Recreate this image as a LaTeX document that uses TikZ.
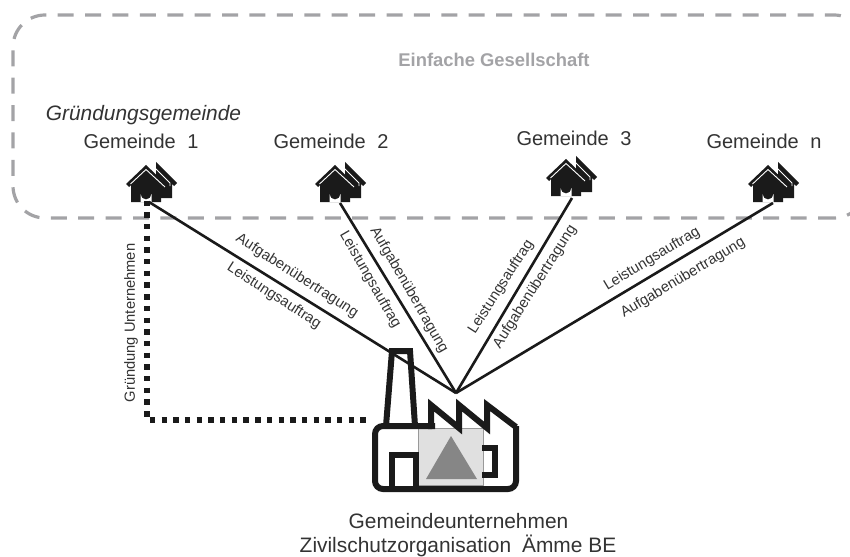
\documentclass[tikz,border=0pt]{standalone}
\usepackage{fontspec}
\setmainfont{Liberation Sans}
\definecolor{dashgray}{HTML}{A3A3A6}
\definecolor{inkc}{HTML}{1A1A1A}
\definecolor{txtc}{HTML}{333333}
\tikzset{
  housepic/.pic={
    \fill[inkc] (10,-3) -- (31,18) -- (28,21) -- (26,19) -- (26,33) -- (10,33) -- cycle;
    \draw[white,line width=0.8pt] (8,2) -- (24,18) -- (24,21);
    \fill[inkc] (0,0) -- (20,19) -- (17,22) -- (15,20) -- (15,37) -- (-15,37) -- (-15,20) -- (-17,22) -- (-20,19) -- cycle;
    \draw[white,line width=0.9pt] (-15.5,19) -- (0,4.5) -- (19,22);
    \fill[white] (-5.5,37) -- (-5.5,29) arc[start angle=180,end angle=0,radius=5.5] -- (5.5,37) -- cycle;
  },
  lab/.style={font=\fontsize{14.7}{16}\selectfont,text=txtc,inner sep=0pt},
  gem/.style={font=\fontsize{20}{22}\selectfont,text=txtc,inner sep=0pt},
  conn/.style={inkc,line width=2.6pt},
  fac/.style={inkc,line width=6pt,line join=miter}
}
\begin{document}
\begin{tikzpicture}[x=1pt,y=-1pt]
\useasboundingbox (0,0) rectangle (850,556);
% group
\begin{scope}
\clip (0,0) rectangle (850,556);
\draw[dashgray,line width=3.2pt,dash pattern=on 16pt off 11.4pt,rounded corners=32pt] (866,218) -- (13,218) -- (13,15) -- (866,15) -- cycle;
\end{scope}
\node[font=\bfseries\fontsize{18.4}{22}\selectfont,text=dashgray,inner sep=0pt] (title) at (494,60) {Einfache Gesellschaft};
\node[font=\itshape\fontsize{20.9}{22}\selectfont,text=txtc,inner sep=0pt] (gruend) at (143.5,115) {Gründungsgemeinde};
\node[gem] (g1) at (141,141) {Gemeinde\hspace{0.3em} 1};
\node[gem] (g2) at (331,141) {Gemeinde\hspace{0.3em} 2};
\node[gem] (g3) at (574,138) {Gemeinde\hspace{0.3em} 3};
\node[gem] (gn) at (764,141) {Gemeinde\hspace{0.3em} n};
% houses
\coordinate (h1) at (147,200.5);
\coordinate (h1b) at (149,202);
\coordinate (h2) at (340,203);
\coordinate (h3) at (572,198);
\coordinate (hn) at (773,203);
\pic at (146,165) {housepic};
\pic at (335,165) {housepic};
\pic at (566,159) {housepic};
\pic at (768,165) {housepic};
% factory
\coordinate (hub) at (456,393);
\coordinate (dotc) at (147,420);
\coordinate (dote) at (370,420);
\fill[black!12] (418,428) rectangle (483,485);
\draw[black!40,line width=0.6pt] (418,428) rectangle (483,485);
\fill[gray!95] (451,436) -- (477,479) -- (426,479) -- cycle;
\draw[fac] (386,426) -- (392,351) -- (410,351) -- (415,426);
\draw[fac,rounded corners=8pt] (432,426) -- (375,426) -- (375,489) -- (516,489) -- (516,426);
\draw[fac] (435,426) -- (431,426) -- (431,405) -- (459,428) -- (459,405) -- (487,428) -- (487,405) -- (516,427);
\draw[fac] (392,489) -- (392,455) -- (416,455) -- (416,489);
\draw[fac] (482,448) -- (495,448) -- (495,475) -- (482,475);
% connectors
\draw[conn] (h1b) -- (hub);
\draw[conn] (h2) -- (hub);
\draw[conn] (h3) -- (hub);
\draw[conn] (hn) -- (hub);
\draw[inkc,line width=5.4pt,dash pattern=on 5.4pt off 6.3pt] (h1) -- (dotc) -- (dote);
% labels
\node[lab,rotate=-32.8] (l1a) at (297,276) {Aufgabenübertragung};
\node[lab,rotate=-32.8] (l1b) at (274,296) {Leistungsauftrag};
\node[lab,rotate=-60] (l2a) at (370,280) {Leistungsauftrag};
\node[lab,rotate=-60] (l2b) at (409,290) {Aufgabenübertragung};
\node[lab,rotate=57.5] (l3a) at (501,287) {Leistungsauftrag};
\node[lab,rotate=57.5] (l3b) at (535,287) {Aufgabenübertragung};
\node[lab,rotate=31] (l4a) at (652,259) {Leistungsauftrag};
\node[lab,rotate=31] (l4b) at (683,278) {Aufgabenübertragung};
\node[lab,rotate=90] (l5) at (131,323) {Gründung Unternehmen};
% bottom
\node[gem,font=\fontsize{20.9}{22}\selectfont] (u1) at (458.5,521) {Gemeindeunternehmen};
\node[gem,font=\fontsize{20.9}{22}\selectfont] (u2) at (458,546) {Zivilschutzorganisation\hspace{0.25em} Ämme BE};
\end{tikzpicture}
\end{document}
